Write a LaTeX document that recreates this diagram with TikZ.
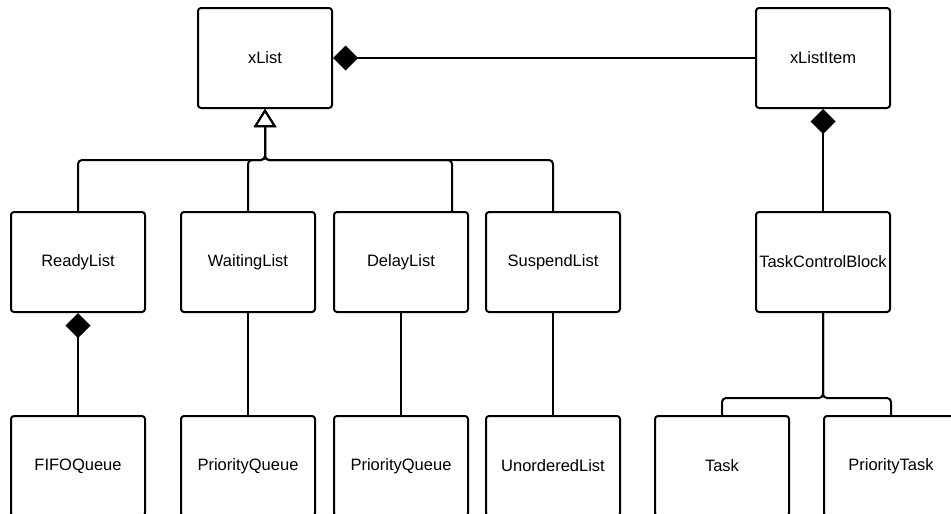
\documentclass[tikz,border=0pt]{standalone}
\usepackage{fontspec}
\setmainfont{Liberation Sans}
\usepackage{tikz}
\usetikzlibrary{positioning, arrows.meta}

\begin{document}
\begin{tikzpicture}[x=1pt, y=-1pt, line width=2pt,
    cls/.style={draw, rounded corners=3pt, minimum width=134pt, minimum height=100pt, inner sep=0pt, font=\fontsize{16.5}{19}\selectfont},
    comp/.style={{Diamond[length=25pt,width=25pt]}-},
    inherit/.style={-{Triangle[open,length=18pt,width=22pt,fill=white]}}]
    \useasboundingbox (0,0) rectangle (951,514);
    % top row
    \node[cls] (xlist) at (265,58) {xList};
    \node[cls] (xlistitem) at (823,58) {xListItem};
    % lists
    \node[cls] (ready) at (78,262) {ReadyList};
    \node[cls] (waiting) at (248,262) {WaitingList};
    \node[cls] (delay) at (401,262) {DelayList};
    \node[cls] (suspend) at (553,262) {SuspendList};
    \node[cls] (tcb) at (823,262) {TaskControlBlock};
    % bottom row
    \node[cls] (fifo) at (78,466) {FIFOQueue};
    \node[cls] (pqa) at (248,466) {PriorityQueue};
    \node[cls] (pqb) at (401,466) {PriorityQueue};
    \node[cls] (unordered) at (553,466) {UnorderedList};
    \node[cls] (task) at (722,466) {Task};
    \node[cls] (ptask) at (891,466) {PriorityTask};

    \coordinate (bus) at (265,160);
    \coordinate (fork) at (823,398);

    \foreach \n/\dx in {ready/0,waiting/0,delay/51,suspend/0} {
        \draw[inherit, rounded corners=4pt] ([xshift=\dx pt]\n.north) |- (bus) -- (xlist.south);
    }
    \draw[comp] (xlist.east) -- (xlistitem.west);
    \draw[comp] (xlistitem.south) -- (tcb.north);
    \draw[comp] (ready.south) -- (fifo.north);
    \draw (waiting.south) -- (pqa.north);
    \draw (delay.south) -- (pqb.north);
    \draw (suspend.south) -- (unordered.north);
    \foreach \n in {task,ptask} {
        \draw[rounded corners=4pt] (\n.north) |- (fork) -- (tcb.south);
    }
\end{tikzpicture}
\end{document}
